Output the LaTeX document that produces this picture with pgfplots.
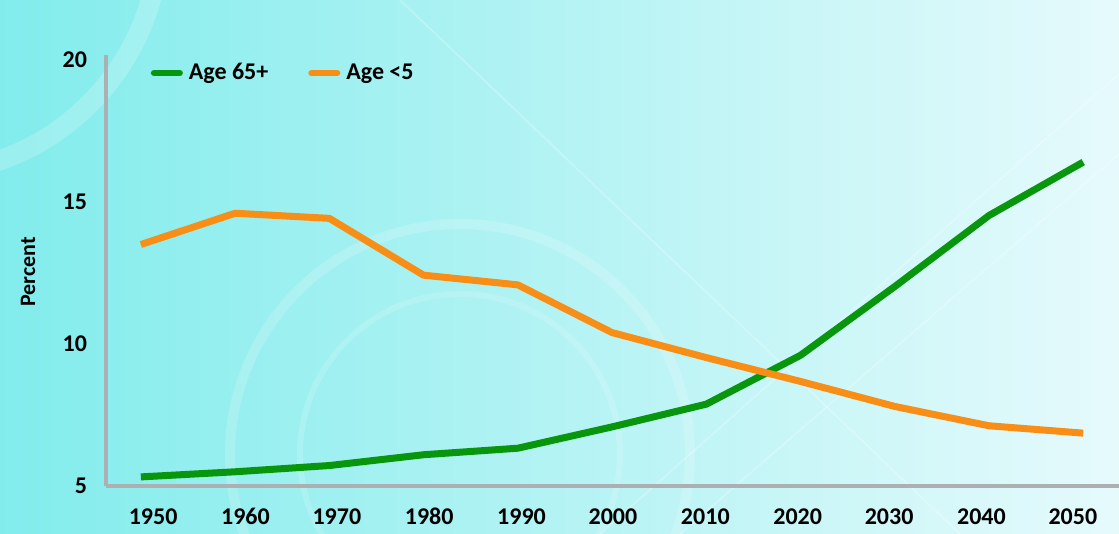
\documentclass[border=0pt]{standalone}
\usepackage{pgfplots}
\pgfplotsset{compat=1.18}
\usepackage{fontspec}
\setmainfont{Carlito}
\definecolor{cgreen}{RGB}{8,150,12}
\definecolor{corange}{RGB}{248,142,22}
\definecolor{caxis}{RGB}{172,176,178}
\definecolor{bgleft}{RGB}{130,236,236}
\definecolor{bgmid}{RGB}{175,246,248}
\definecolor{bgright}{RGB}{230,250,252}
\pgfplotstableread{
year old young
1950 5.32 13.50
1960 5.50 14.60
1970 5.72 14.42
1980 6.10 12.42
1990 6.33 12.08
2000 7.08 10.40
2010 7.88 9.52
2020 9.60 8.68
2030 12.02 7.80
2040 14.52 7.12
2050 16.40 6.86
}\datatable
\begin{document}
\begin{tikzpicture}
\useasboundingbox (0pt,0pt) rectangle (559.5pt,267pt);
\shade[left color=bgleft, middle color=bgmid, right color=bgright] (0pt,0pt) rectangle (559.5pt,267pt);
\begin{scope}
\clip (0pt,0pt) rectangle (559.5pt,267pt);
\draw[white, opacity=0.18, line width=5pt] (230pt,40pt) circle (115pt);
\draw[white, opacity=0.15, line width=3pt] (230pt,40pt) circle (80pt);
\draw[white, opacity=0.2, line width=10pt] (-40pt,300pt) circle (120pt);
\draw[white, opacity=0.25, line width=0.8pt] (300pt,0pt) -- (559.5pt,230pt);
\draw[white, opacity=0.25, line width=0.8pt] (340pt,0pt) -- (559.5pt,190pt);
\draw[white, opacity=0.25, line width=0.8pt] (200pt,267pt) -- (480pt,0pt);
\end{scope}
\begin{axis}[
  at={(53pt,24pt)}, anchor=south west,
  scale only axis, width=506.5pt, height=215.5pt,
  xmin=1946.3, xmax=2053.8, ymin=5, ymax=20.17,
  axis x line*=bottom, axis y line*=left,
  axis line style={-, caxis, line width=2pt},
  major tick length=0pt,
  xtick={1951.3,1961.1,1970.8,1980.6,1990.4,2000.1,2009.9,2019.7,2029.4,2039.2,2048.9},
  xticklabels={1950,1960,1970,1980,1990,2000,2010,2020,2030,2040,2050},
  ytick={5,10,15,20},
  /pgf/number format/assume math mode=true,
  tick label style={font=\fontsize{12}{14}\selectfont\bfseries},
  xticklabel style={yshift=-7pt, text height=8.5pt, text depth=0pt},
  yticklabel style={xshift=-6pt},
  ylabel={Percent},
  ylabel style={at={(axis description cs:-0.077,0.497)}, anchor=center, font=\fontsize{11}{13}\selectfont\bfseries},
  legend columns=2,
  legend style={at={(axis description cs:0.038,1.0)}, anchor=north west, draw=none, fill=none,
    font=\fontsize{12}{14}\selectfont\bfseries, column sep=0pt, nodes={inner xsep=3pt},
    /tikz/every even column/.append style={column sep=17pt}},
  legend image code/.code={\draw[#1, line cap=round, line width=3pt] (0pt,0pt) -- (13pt,0pt);},
]
\addplot[cgreen, line width=3.5pt, line join=round] table[x=year, y=old] {\datatable};
\addlegendentry{Age 65+}
\addplot[corange, line width=3.5pt, line join=round] table[x=year, y=young] {\datatable};
\addlegendentry{Age <5}
\end{axis}
\end{tikzpicture}
\end{document}
